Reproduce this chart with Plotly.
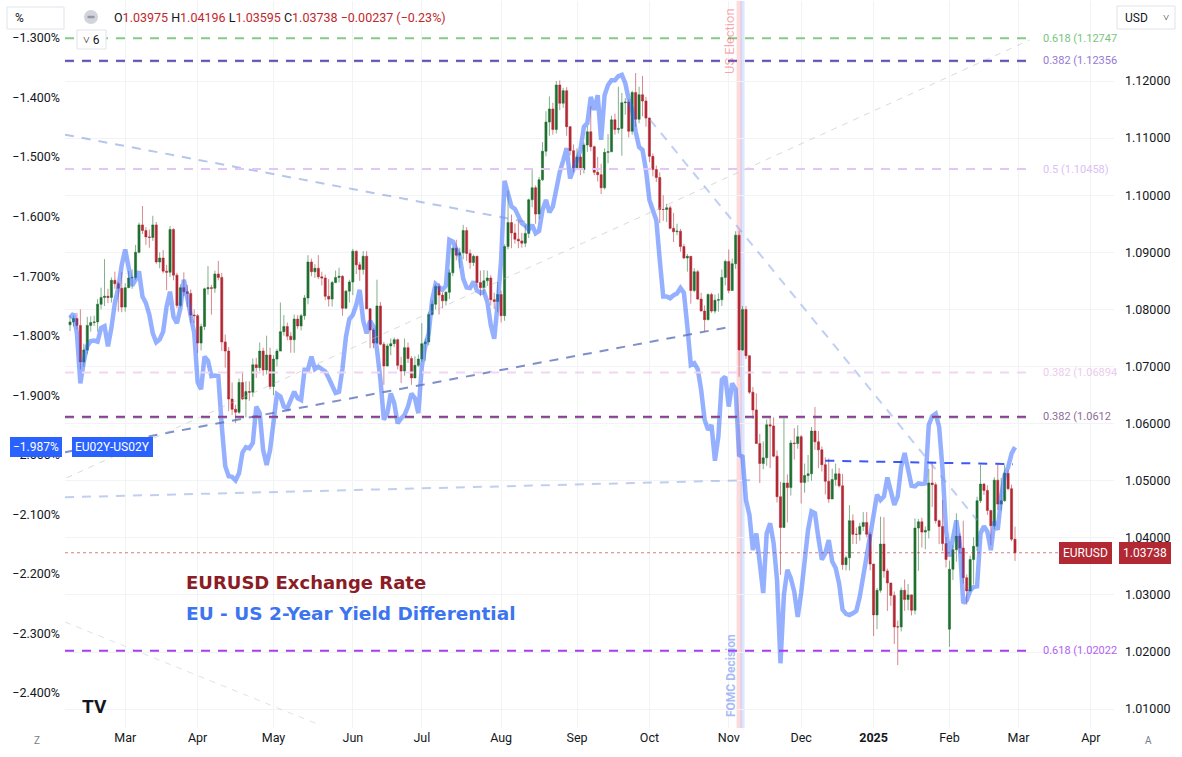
import pandas as pd
import plotly.graph_objects as go

# ---------------- data ----------------
START = "2024-02-08"
END = "2025-02-28"
HOLIDAYS = ["2024-12-25", "2025-01-01"]

# EURUSD daily values in pips above 1.0000 (e.g. 778 -> 1.0778)
eur_close = [
    778, 784, 772, 708, 729, 772, 777, 778, 809, 821, 823, 821, 851, 845, 837, 804,
    838, 855, 856, 900, 948, 938, 927, 926, 948, 883, 890, 867, 865, 940, 860, 807, 838, 831, 828, 790, 789,
    741, 770, 836, 838, 837, 862, 856, 743, 727, 643, 625, 620, 672, 643, 656, 655, 703, 698, 727, 694, 720, 665,
    713, 727, 761, 770, 753, 747, 783, 771, 789, 820, 883, 866, 872, 857, 855, 823, 818, 847, 856, 858, 802, 832, 848,
    902, 878, 870, 893, 801, 764, 741, 806, 739, 701, 736, 740, 747, 702, 692, 733, 714, 680, 702, 713,
    740, 743, 791, 809, 840, 825, 815, 830, 864, 907, 895, 899, 938, 898, 882, 893, 847, 838, 850, 855, 817, 814, 826,
    789, 910, 952, 934, 923, 920, 916, 933, 992, 1013, 967, 1027, 1077, 1128, 1151, 1115, 1193, 1161, 1183, 1120, 1078, 1048,
    1067, 1045, 1088, 1111, 1085, 1040, 1036, 1013, 1075, 1076, 1132, 1115, 1117, 1162, 1163, 1112, 1180, 1133, 1176, 1165, 1135,
    1068, 1045, 1031, 975, 975, 978, 942, 936, 937, 910, 890, 893, 833, 866, 818, 797, 782, 826, 797, 816, 817, 856, 884,
    833, 880, 930, 729, 800, 719, 655, 624, 565, 530, 540, 598, 596, 543, 472, 418, 496, 488, 566, 565, 577,
    497, 509, 512, 587, 568, 554, 528, 499, 468, 502, 512, 491, 353, 365, 430, 406, 406, 420, 427, 406, 354,
    265, 308, 389, 342, 321, 299, 244, 244, 308, 292, 300, 273, 417, 428, 410, 413, 496, 493, 430, 420, 390, 362,
    345, 379, 403, 382, 330, 307, 362, 385, 465, 494, 483, 448, 421, 501, 459, 465, 513, 486, 397.5, 373.8,
]
eur_high = [
    789, 789, 794, 800, 740, 787, 788, 789, 818, 838, 888, 836, 856, 866, 848, 865,
    846, 867, 870, 913, 952, 981, 944, 940, 964, 953, 900, 904, 878, 946, 942, 864, 844, 865, 843, 835, 800,
    792, 775, 838, 876, 843, 868, 885, 864, 756, 734, 672, 633, 679, 691, 674, 674, 714, 715, 742, 733, 754, 733,
    720, 731, 812, 790, 777, 760, 791, 790, 792, 825, 895, 889, 879, 895, 866, 861, 853, 850, 868, 873, 860, 834, 852,
    906, 903, 883, 902, 902, 802, 767, 852, 813, 743, 740, 749, 751, 749, 717, 749, 742, 718, 718, 721,
    776, 749, 796, 816, 844, 846, 829, 832, 870, 910, 922, 908, 948, 944, 905, 896, 894, 868, 869, 868, 860, 829, 848,
    833, 914, 1008, 966, 950, 955, 934, 948, 994, 1046, 1017, 1032, 1093, 1147, 1173, 1162, 1200, 1201, 1188, 1189, 1121, 1089,
    1082, 1071, 1092, 1121, 1156, 1087, 1067, 1055, 1082, 1107, 1139, 1143, 1190, 1179, 1170, 1168, 1183, 1214, 1190, 1209, 1172,
    1136, 1073, 1052, 1040, 1000, 985, 982, 969, 950, 941, 915, 897, 880, 872, 869, 829, 807, 828, 829, 826, 828, 870, 887,
    905, 889, 937, 938, 806, 806, 718, 664, 653, 582, 569, 607, 610, 611, 553, 498, 609, 511, 571, 592, 597,
    580, 530, 545, 594, 629, 587, 560, 541, 539, 521, 530, 522, 512, 369, 457, 441, 418, 426, 445, 445, 410,
    354, 312, 437, 436, 346, 317, 306, 255, 313, 327, 319, 301, 434, 433, 435, 420, 521, 533, 497, 432, 466, 401,
    360, 387, 443, 408, 430, 336, 369, 401, 472, 528, 496, 492, 448, 506, 528, 505, 528, 519, 493, 419.6,
]
eur_low = [
    762, 770, 765, 695, 700, 722, 761, 771, 761, 800, 806, 811, 812, 836, 796, 795,
    796, 838, 836, 852, 898, 932, 913, 908, 920, 880, 872, 863, 834, 857, 851, 802, 803, 823, 804, 776, 776,
    724, 728, 764, 826, 791, 829, 851, 727, 698, 622, 615, 601, 617, 641, 611, 640, 647, 680, 692, 684, 686, 660,
    650, 700, 727, 754, 746, 724, 724, 766, 763, 782, 809, 858, 855, 853, 842, 816, 805, 805, 846, 847, 789, 801, 812,
    825, 862, 850, 861, 801, 732, 732, 740, 737, 668, 700, 720, 734, 695, 671, 684, 706, 668, 681, 699,
    708, 710, 737, 790, 800, 791, 802, 807, 818, 858, 886, 872, 888, 885, 871, 876, 840, 823, 826, 841, 807, 801, 795,
    777, 780, 905, 907, 915, 907, 908, 909, 925, 979, 950, 958, 1025, 1068, 1104, 1106, 1108, 1149, 1153, 1104, 1070, 1040,
    1044, 1035, 1038, 1076, 1077, 1035, 1024, 1002, 1010, 1056, 1082, 1106, 1108, 1069, 1141, 1101, 1106, 1120, 1126, 1138, 1120,
    1058, 1033, 1023, 951, 955, 953, 940, 918, 930, 901, 888, 866, 810, 830, 817, 797, 761, 781, 794, 793, 796, 806, 842,
    828, 845, 871, 682, 727, 713, 652, 608, 565, 496, 520, 526, 522, 541, 462, 335, 423, 427, 474, 537, 556,
    460, 479, 498, 500, 554, 522, 516, 476, 461, 468, 491, 488, 344, 343, 343, 389, 389, 395, 412, 401, 343,
    228, 240, 304, 330, 272, 281, 214, 177, 236, 272, 273, 264, 266, 342, 383, 380, 399, 454, 425, 389, 377, 348,
    209, 326, 358, 373, 320, 283, 306, 318, 377, 461, 475, 440, 387, 415, 449, 448, 463, 483, 394, 359.5,
]
FIRST_OPEN = 773
GAP_OPENS = {"2025-02-03": 240}

# EU02Y - US02Y yield differential, %
yield_diff = [
    -1.770, -1.763, -1.796, -1.880, -1.843, -1.817, -1.809, -1.808, -1.810, -1.787,
    -1.784, -1.818, -1.787, -1.745, -1.720, -1.681, -1.655, -1.687, -1.716, -1.706,
    -1.692, -1.734, -1.745, -1.765, -1.796, -1.811, -1.806, -1.793, -1.751, -1.726,
    -1.768, -1.779, -1.754, -1.706, -1.742, -1.767, -1.795, -1.878, -1.890, -1.835,
    -1.842, -1.868, -1.867, -1.868, -1.952, -2.019, -2.036, -2.037, -2.043, -2.031,
    -1.996, -1.987, -1.989, -1.980, -1.919, -1.930, -1.992, -2.017, -1.992, -1.936,
    -1.898, -1.902, -1.919, -1.922, -1.906, -1.894, -1.905, -1.908, -1.857,
    -1.857, -1.835, -1.856, -1.852, -1.857, -1.860, -1.871, -1.885, -1.896,
    -1.894, -1.855, -1.802, -1.772, -1.765, -1.748, -1.723, -1.774, -1.796, -1.775, -1.785,
    -1.823, -1.874, -1.941, -1.930, -1.897, -1.913, -1.947, -1.939, -1.933, -1.919,
    -1.897, -1.905, -1.930, -1.852, -1.818, -1.796, -1.740, -1.713, -1.719, -1.723,
    -1.716, -1.639, -1.642, -1.656, -1.667, -1.704, -1.719, -1.720, -1.709, -1.724,
    -1.728, -1.726, -1.743, -1.782, -1.805, -1.746, -1.673, -1.540, -1.561, -1.583,
    -1.587, -1.600, -1.611, -1.615, -1.622, -1.614, -1.628, -1.624, -1.589, -1.572,
    -1.593, -1.583, -1.549, -1.525, -1.506, -1.485, -1.536, -1.522, -1.505, -1.488,
    -1.449, -1.443, -1.399, -1.421, -1.396, -1.471, -1.396, -1.379,
    -1.371, -1.371, -1.364, -1.362, -1.376, -1.403, -1.421, -1.457, -1.483, -1.488,
    -1.522, -1.572, -1.589, -1.606, -1.673, -1.734, -1.734, -1.737, -1.732, -1.729,
    -1.720, -1.728, -1.785, -1.849, -1.846, -1.856, -1.891, -1.941, -1.958, -1.950,
    -2.010, -1.969, -1.874, -1.869, -1.919,
    -1.880, -1.890, -2.000, -2.003, -2.076, -2.101, -2.160, -2.132, -2.188, -2.232,
    -2.132, -2.115, -2.148, -2.210, -2.350,
    -2.235, -2.193, -2.207, -2.230, -2.272, -2.232, -2.171, -2.126, -2.095, -2.098,
    -2.140, -2.176, -2.165, -2.143, -2.179, -2.190, -2.216, -2.260, -2.267, -2.269,
    -2.266, -2.262, -2.238, -2.204, -2.165, -2.137, -2.106, -2.067, -2.076, -2.070,
    -2.038, -2.062, -2.084, -2.070, -2.020, -1.997, -2.025, -2.052, -2.053, -2.048,
    -2.049, -2.048, -1.950, -1.935, -1.931, -1.953, -2.025, -2.126, -2.171, -2.143,
    -2.110, -2.151, -2.249, -2.244, -2.228, -2.222, -2.221, -2.132, -2.120, -2.129,
    -2.160, -2.112, -2.126, -2.070, -2.034, -2.021, -1.998, -1.987,
]

month_ticks = ["2024-03-01", "2024-04-01", "2024-05-01", "2024-06-03", "2024-07-01", "2024-08-01",
               "2024-09-02", "2024-10-01", "2024-11-01", "2024-12-02", "2025-01-02", "2025-02-03",
               "2025-03-03", "2025-04-01"]
month_labels = ["Mar", "Apr", "May", "Jun", "Jul", "Aug", "Sep", "Oct", "Nov", "Dec",
                "<b>2025</b>", "Feb", "Mar", "Apr"]
price_ticks = [1.01, 1.02, 1.03, 1.04, 1.05, 1.06, 1.07, 1.08, 1.09, 1.10, 1.11, 1.12]
yield_ticks = [-1.3, -1.4, -1.5, -1.6, -1.7, -1.8, -1.9, -2.0, -2.1, -2.2, -2.3, -2.4]

fib_levels = [1.12747, 1.12356, 1.10458, 1.06894, 1.06120, 1.02022]
fib_texts = ["0.618 (1.12747", "0.382 (1.12356", "0.5 (1.10458)", "0.382 (1.06894", "0.382 (1.0612", "0.618 (1.02022"]

# ---------------- build ----------------
dates = pd.bdate_range(START, END)
dates = dates[~dates.isin(pd.to_datetime(HOLIDAYS))]
n = len(dates)
if not (len(eur_close) == len(eur_high) == len(eur_low) == len(yield_diff) == n):
    raise SystemExit(f"length mismatch {n} {len(eur_close)} {len(eur_high)} {len(eur_low)} {len(yield_diff)}")

opens = []
for i, d in enumerate(dates):
    key = d.strftime("%Y-%m-%d")
    if key in GAP_OPENS:
        opens.append(GAP_OPENS[key])
    elif i == 0:
        opens.append(FIRST_OPEN)
    else:
        opens.append(eur_close[i - 1])
highs = [max(h, o, c) for h, o, c in zip(eur_high, opens, eur_close)]
lows = [min(l, o, c) for l, o, c in zip(eur_low, opens, eur_close)]
to_px = lambda v: 1 + v / 10000.0
O = [to_px(v) for v in opens]
H = [to_px(v) for v in highs]
L = [to_px(v) for v in lows]
C = [to_px(v) for v in eur_close]

GREEN = "#1f6f30"
RED = "#b22833"
X0 = "2024-02-06 13:00"
X1 = "2025-04-09 17:00"
FIB_END = "2025-03-06 07:00"
FONT = "Roboto"

fig = go.Figure()
fig.add_trace(go.Candlestick(
    x=dates, open=O, high=H, low=L, close=C,
    increasing=dict(line=dict(color="rgba(31,111,48,0.55)", width=1), fillcolor=GREEN),
    decreasing=dict(line=dict(color="rgba(178,40,51,0.55)", width=1), fillcolor=RED),
    hoverinfo="skip", showlegend=False, yaxis="y",
))
fig.add_trace(go.Scatter(
    x=dates, y=yield_diff, yaxis="y2", mode="lines",
    line=dict(color="rgba(41,98,255,0.5)", width=4.5), hoverinfo="skip", showlegend=False,
))

shapes = []
# vertical event bands
shapes.append(dict(type="line", xref="x", yref="paper", x0="2024-11-06", x1="2024-11-06", y0=0, y1=1,
                   line=dict(color="rgba(242,54,69,0.18)", width=5), layer="between"))
shapes.append(dict(type="line", xref="x", yref="paper", x0="2024-11-07", x1="2024-11-07", y0=0, y1=1,
                   line=dict(color="rgba(41,98,255,0.16)", width=4), layer="between"))

# trend lines (date, price)
def tline(x0, y0, x1, y1, color, width=2, dash="9px,8px"):
    shapes.append(dict(type="line", xref="x", yref="y", x0=x0, y0=y0, x1=x1, y1=y1,
                       line=dict(color=color, width=width, dash=dash), layer="above"))

tline(X0, 1.1106, "2024-08-12 12:00", 1.0953, "rgba(120,150,220,0.55)")
tline(X0, 1.0550, "2024-11-01", 1.0769, "rgba(95,115,185,0.8)")
tline("2024-02-07", 1.0505, FIB_END, 1.1272, "rgba(185,185,195,0.55)", 1, "6px,6px")
tline("2024-10-01 05:00", 1.1132, "2025-02-13", 1.0431, "rgba(130,160,235,0.5)")
tline(X0, 1.0471, "2024-11-11 05:00", 1.0501, "rgba(130,160,225,0.5)")
tline("2024-12-11", 1.0535, "2025-02-27 10:00", 1.0529, "rgba(40,70,245,0.9)")
tline(X0, 1.02525, "2024-05-20 12:00", 1.0072, "rgba(195,195,205,0.5)", 1, "6px,6px")

# fib levels
fib_line_colors = ["rgba(102,187,106,0.8)", "#6a4bc2", "#e3c6f5", "#f1d5f3", "#93389f", "#a63df0"]
fib_text_colors = ["#79c47c", "#9479d4", "#dcc0f5", "#ebcbee", "#8d6d98", "#b262f2"]
for lvl, col, txt, tcol in zip(fib_levels, fib_line_colors, fib_texts, fib_text_colors):
    if txt in ("0.382 (1.12356", "0.382 (1.0612"):
        shapes.append(dict(type="line", xref="x", yref="y", x0=X0, x1=FIB_END, y0=lvl - 0.00012, y1=lvl - 0.00012,
                           line=dict(color="rgba(102,187,106,0.8)", width=2, dash="9px,8px"), layer="above"))
    shapes.append(dict(type="line", xref="x", yref="y", x0=X0, x1=FIB_END, y0=lvl, y1=lvl,
                       line=dict(color=col, width=2, dash="9px,8px"), layer="above"))

# last close dotted line
shapes.append(dict(type="line", xref="paper", yref="y", x0=0, x1=1, y0=C[-1], y1=C[-1],
                   line=dict(color="rgba(178,40,51,0.6)", width=1, dash="dot"), layer="above"))

# toolbar boxes
def px_x(x):
    return (x - 65) / 1049.0

def px_y(y):
    return (728 - y) / 727.0

shapes.append(dict(type="rect", xref="paper", yref="paper", x0=px_x(7), x1=px_x(64), y0=px_y(29), y1=px_y(7),
                   line=dict(color="#e0e3eb", width=1), fillcolor="white", layer="above"))
shapes.append(dict(type="circle", xref="paper", yref="paper", x0=px_x(84), x1=px_x(98), y0=px_y(24), y1=px_y(10),
                   line=dict(width=0), fillcolor="#d1d4dc", layer="above"))
shapes.append(dict(type="line", xref="paper", yref="paper", x0=px_x(87.5), x1=px_x(94.5), y0=px_y(17), y1=px_y(17),
                   line=dict(color="#9598a1", width=2.5), layer="above"))
shapes.append(dict(type="rect", xref="paper", yref="paper", x0=px_x(77), x1=px_x(106), y0=px_y(49), y1=px_y(30),
                   line=dict(color="#e0e3eb", width=1), fillcolor="white", layer="above"))
shapes.append(dict(type="rect", xref="paper", yref="paper", x0=px_x(1117), x1=px_x(1175), y0=px_y(29), y1=px_y(6),
                   line=dict(color="#e0e3eb", width=1), fillcolor="white", layer="above"))

annotations = []
def ann(text, x, y, size=12, color="#131722", xanchor="center", yanchor="middle", xref="paper", yref="paper",
        family=FONT, **kw):
    d = dict(text=text, x=x, y=y, xref=xref, yref=yref, showarrow=False, xanchor=xanchor, yanchor=yanchor,
             font=dict(family=family, size=size, color=color))
    d.update(kw)
    annotations.append(d)

for lvl, txt, tcol in zip(fib_levels, fib_texts, fib_text_colors):
    ann(txt, px_x(1041), lvl, size=11, color=tcol, xanchor="left", yref="y")

prev_c = C[-2]
chg = C[-1] - prev_c
red = "#c1272d"
legend = ("O<span style='color:%s'>%.5f</span> H<span style='color:%s'>%.5f</span> "
          "L<span style='color:%s'>%.5f</span> C<span style='color:%s'>%.5f</span> "
          "<span style='color:%s'>%s (%s%%)</span>") % (
    red, O[-1], red, H[-1], red, L[-1], red, C[-1], red,
    ("%.5f" % chg).replace("-", "\u2212"), ("%.2f" % (chg / prev_c * 100)).replace("-", "\u2212"))
ann(legend, px_x(112), px_y(17), size=12.5, xanchor="left")
ann("%", px_x(13), px_y(18), size=12, xanchor="left")
ann("\u02c5 6", px_x(91.5), px_y(39.5), size=12)
ann("USD", px_x(1123), px_y(18), size=12, xanchor="left")
ann("\u02c5", px_x(1166), px_y(18), size=11)
ann("Z", px_x(37), px_y(740), size=10, color="#787b86")
ann("A", px_x(1148), px_y(740), size=10, color="#787b86")
ann("<b>TV</b>", px_x(94), px_y(706), size=19, color="#131722")

ann("US Election", px_x(729), px_y(41), size=13, color="rgba(242,54,69,0.45)", textangle=-90)
ann("<b>FOMC Decision</b>", px_x(731), px_y(676), size=12, color="rgba(90,130,240,0.55)", textangle=-90)

ann("<b>EURUSD Exchange Rate</b>", px_x(184), px_y(582), size=18, color="#8b1c25", xanchor="left",
    family="DejaVu Sans")
ann("<b>EU - US 2-Year Yield Differential</b>", px_x(184), px_y(613), size=18.5, color="#3d74ef", xanchor="left",
    family="DejaVu Sans")

# price labels
ann("EURUSD", px_x(1085), C[-1], size=12, color="white", yref="y", bgcolor=RED, bordercolor=RED, borderpad=3)
ann("%.5f" % C[-1], px_x(1145), C[-1], size=12, color="white", yref="y", bgcolor=RED, bordercolor=RED, borderpad=3)
last_y = yield_diff[-1]
ann(("%.3f%%" % last_y).replace("-", "\u2212"), px_x(35.5), last_y, size=12, color="white", yref="y2",
    bgcolor="#2962ff", bordercolor="#2962ff", borderpad=2)
ann("EU02Y-US02Y", px_x(112), last_y, size=12, color="white", yref="y2",
    bgcolor="#2962ff", bordercolor="#2962ff", borderpad=2)

fig.update_layout(
    width=1182, height=757,
    margin=dict(l=65, r=68, t=1, b=29),
    paper_bgcolor="white", plot_bgcolor="white",
    font=dict(family=FONT, size=12, color="#131722"),
    showlegend=False,
    boxgap=0.12,
    xaxis=dict(
        type="date", range=[X0, X1],
        rangebreaks=[dict(bounds=["sat", "mon"]), dict(values=HOLIDAYS)],
        tickvals=month_ticks, ticktext=month_labels, tickfont=dict(size=12.5, color="#131722"),
        showgrid=True, gridcolor="#f2f3f5", gridwidth=1, zeroline=False, showline=False, ticks="",
        rangeslider=dict(visible=False), fixedrange=True,
    ),
    yaxis=dict(
        side="right", range=[1.00669, 1.13401], tickvals=price_ticks,
        ticktext=["%.5f" % v for v in price_ticks], tickfont=dict(size=12.5, color="#131722"),
        showgrid=True, gridcolor="#f2f3f5", zeroline=False, showline=False, ticks="",
        ticklabelstandoff=10,
    ),
    yaxis2=dict(
        overlaying="y", side="left", range=[-2.4587, -1.2379], tickvals=yield_ticks,
        ticktext=[("%.3f%%" % v).replace("-", "\u2212") for v in yield_ticks],
        tickfont=dict(size=12.5, color="#131722"),
        showgrid=False, zeroline=False, showline=False, ticks="", ticklabelstandoff=4,
    ),
    shapes=shapes,
    annotations=annotations,
)

fig.write_html("out.html", config={"displayModeBar": False},
               post_script="document.body.style.margin='0px';document.body.style.padding='0px';")
